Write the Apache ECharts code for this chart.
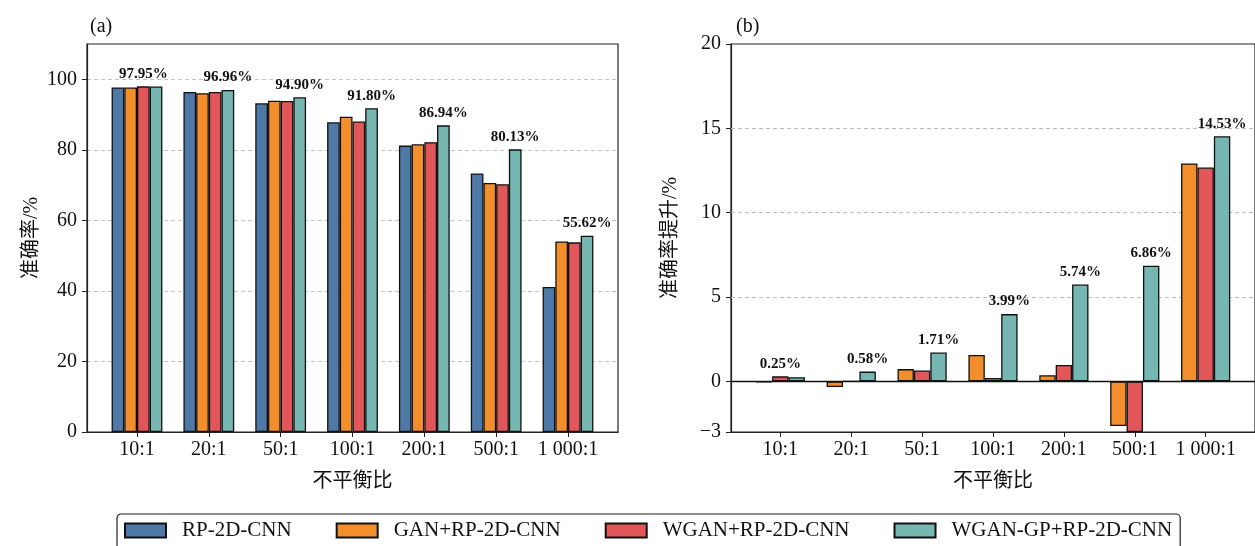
<!DOCTYPE html>
<html>
<head>
<meta charset="utf-8">
<script src="https://cdn.jsdelivr.net/npm/echarts@6/dist/echarts.min.js"></script>
<style>html,body{margin:0;padding:0;background:#fff}#c{width:1255px;height:546px}</style>
</head>
<body>
<div id="c"></div>
<script>
const categories = ['10:1', '20:1', '50:1', '100:1', '200:1', '500:1', '1 000:1'];
const seriesNames = ['RP-2D-CNN', 'GAN+RP-2D-CNN', 'WGAN+RP-2D-CNN', 'WGAN-GP+RP-2D-CNN'];

// (a) accuracy, %
const accRP    = [97.70, 96.38, 93.19, 87.81, 81.20, 73.27, 41.09];
const accGAN   = [97.65, 96.05, 93.92, 89.37, 81.56, 70.62, 54.01];
const accWGAN  = [98.00, 96.38, 93.84, 88.01, 82.17, 70.27, 53.77];
const accGP    = [97.95, 96.96, 94.90, 91.80, 86.94, 80.13, 55.62];

// (b) accuracy improvement over RP-2D-CNN, %
const gainGAN  = [-0.05, -0.33, 0.73, 1.56, 0.36, -2.65, 12.92];
const gainWGAN = [0.30, 0.00, 0.65, 0.20, 0.97, -3.00, 12.68];
const gainGP   = [0.25, 0.58, 1.71, 3.99, 5.74, 6.86, 14.53];

const accTicks = [0, 20, 40, 60, 80, 100];
const gainTicks = [-3, 0, 5, 10, 15, 20];
const gainGridLines = [5, 10, 15];

const colors = ['#4e79a7', '#f28e2b', '#e15759', '#76b7b2'];
const FONT = "'Liberation Serif','Times New Roman','Noto Sans CJK SC',serif";

const catIdx = categories.map((c, i) => i);

function buildSeries(groups, names, cols, gi, bw, labelVals) {
  // label placed above the tallest bar of each group, showing the WGAN-GP value
  const maxIdx = catIdx.map(i => {
    let best = 0;
    groups.forEach((g, k) => { if (g[i] > groups[best][i]) best = k; });
    return best;
  });
  return groups.map((vals, k) => ({
    type: 'bar',
    name: names[k],
    xAxisIndex: gi, yAxisIndex: gi,
    barWidth: bw,
    barGap: '0%',
    itemStyle: { color: cols[k], borderColor: '#111', borderWidth: 1.3 },
    data: vals.map((v, i) => {
      const d = { value: [i, v] };
      if (maxIdx[i] === k) {
        d.label = { show: true, position: 'top', distance: 5,
          formatter: labelVals[i].toFixed(2) + '%',
          fontFamily: FONT, fontWeight: 'bold', fontSize: 15, color: '#111' };
      }
      return d;
    })
  }));
}

const seriesA = buildSeries([accRP, accGAN, accWGAN, accGP], seriesNames, colors, 0, 12.7, accGP);
const seriesB = buildSeries([gainGAN, gainWGAN, gainGP], seriesNames.slice(1), colors.slice(1), 1, 16.4, gainGP);

seriesB[0].markLine = {
  silent: true, symbol: 'none', z: 1, label: { show: false },
  lineStyle: { color: '#bdbdbd', type: [4, 3], width: 1 },
  data: gainGridLines.map(v => ({ yAxis: v }))
};
seriesB[1].markLine = {
  silent: true, symbol: 'none', z: 6, label: { show: false },
  lineStyle: { color: '#111', type: 'solid', width: 1.3 },
  data: [{ yAxis: 0 }]
};

function xAxisCfg(gi) {
  return {
    type: 'value', gridIndex: gi, min: -0.696, max: 6.696,
    name: '不平衡比', nameLocation: 'middle', nameGap: 40,
    nameTextStyle: { fontSize: 20, color: '#111', fontFamily: FONT },
    axisLine: { show: true, onZero: false, lineStyle: { color: '#222', width: 1.2 } },
    axisTick: { show: true, customValues: catIdx, length: 5, lineStyle: { color: '#222' } },
    axisLabel: { customValues: catIdx, formatter: v => categories[Math.round(v)], fontSize: 20, color: '#111', margin: 8, fontFamily: FONT },
    splitLine: { show: false }
  };
}

const option = {
  animation: false,
  textStyle: { fontFamily: FONT },
  title: [
    { text: '(a)', left: 85, top: 12, textStyle: { fontSize: 20, fontWeight: 'normal', color: '#111', fontFamily: FONT } },
    { text: '(b)', left: 731, top: 12, textStyle: { fontSize: 20, fontWeight: 'normal', color: '#111', fontFamily: FONT } }
  ],
  legend: {
    data: seriesNames,
    left: 117, top: 514,
    padding: [6, 8, 20, 7],
    itemGap: 44, itemWidth: 41, itemHeight: 14,
    icon: 'rect',
    borderColor: '#222', borderWidth: 1.2, borderRadius: 4,
    textStyle: { fontSize: 21, color: '#111', fontFamily: FONT, padding: [0, 0, 0, 11] }
  },
  grid: [
    { left: 87, top: 44, width: 531, height: 388, show: true, borderColor: '#222', borderWidth: 1.2, backgroundColor: 'transparent' },
    { left: 731, top: 44, width: 531, height: 388, show: true, borderColor: '#222', borderWidth: 1.2, backgroundColor: 'transparent' }
  ],
  xAxis: [xAxisCfg(0), xAxisCfg(1)],
  yAxis: [
    {
      type: 'value', gridIndex: 0, min: 0, max: 110, interval: 20,
      name: '准确率/%', nameLocation: 'middle', nameGap: 45,
      nameTextStyle: { fontSize: 20, color: '#111', fontFamily: FONT },
      axisLine: { show: true, onZero: false, lineStyle: { color: '#222', width: 1.2 } },
      axisTick: { show: true, customValues: accTicks, length: 5, lineStyle: { color: '#222' } },
      axisLabel: { customValues: accTicks, fontSize: 20, color: '#111', margin: 10, fontFamily: FONT },
      splitLine: { show: true, lineStyle: { color: '#c4c4c4', type: [4, 3], width: 1 } }
    },
    {
      type: 'value', gridIndex: 1, min: -3, max: 20,
      name: '准确率提升/%', nameLocation: 'middle', nameGap: 50,
      nameTextStyle: { fontSize: 20, color: '#111', fontFamily: FONT },
      axisLine: { show: true, onZero: false, lineStyle: { color: '#222', width: 1.2 } },
      axisTick: { show: true, customValues: gainTicks, length: 5, lineStyle: { color: '#222' } },
      axisLabel: { customValues: gainTicks, formatter: v => (v < 0 ? '\u2212' + Math.abs(v) : String(v)), fontSize: 20, color: '#111', margin: 10, fontFamily: FONT },
      splitLine: { show: false }
    }
  ],
  series: seriesA.concat(seriesB)
};

const chart = echarts.init(document.getElementById('c'), null, { renderer: 'canvas' });
chart.setOption(option);
</script>
</body>
</html>
